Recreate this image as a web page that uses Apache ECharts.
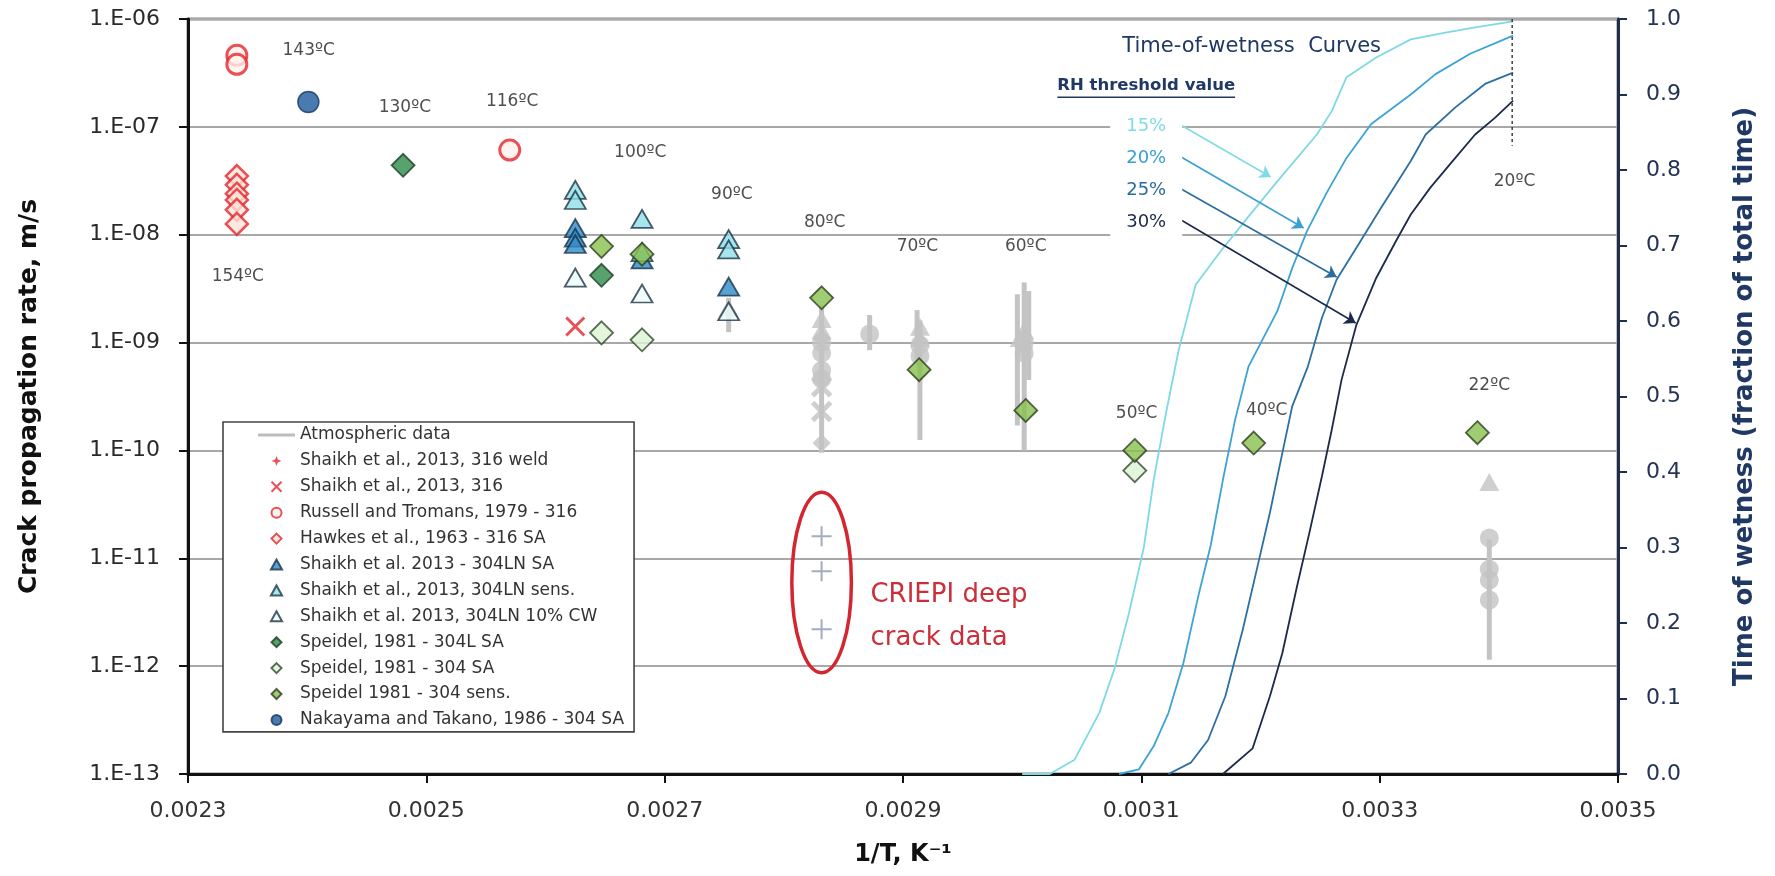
<!DOCTYPE html>
<html><head><meta charset="utf-8">
<script src="https://cdn.jsdelivr.net/npm/echarts@6/dist/echarts.min.js"></script>
<style>html,body{margin:0;padding:0;background:#fff}#c{width:1775px;height:876px}</style>
</head><body><div id="c"></div>
<script>
// ---------- axis ticks ----------
const xTicks = [0.0023, 0.0025, 0.0027, 0.0029, 0.0031, 0.0033, 0.0035];

// ---------- data: [1/T (1/K), crack rate (m/s)] ----------
const russellTromans = [[0.002341, 4.6e-7], [0.002341, 3.8e-7], [0.00257, 6.1e-8]];
const hawkes = [[0.002341, 3.5e-8], [0.002341, 2.9e-8], [0.002341, 2.4e-8], [0.002341, 2.1e-8], [0.002341, 1.7e-8], [0.002341, 1.26e-8]];
const nakayama = [[0.002401, 1.7e-7]];
const speidel304LSA = [[0.0024805, 4.4e-8], [0.002647, 4.2e-9]];
const speidel304Sens = [[0.002647, 7.8e-9], [0.002681, 6.6e-9], [0.0028317, 2.6e-9], [0.0029135, 5.6e-10], [0.003003, 2.35e-10], [0.0030945, 1.0e-10], [0.0031943, 1.17e-10], [0.003382, 1.46e-10]];
const speidel304SA = [[0.002647, 1.23e-9], [0.002681, 1.06e-9], [0.0030945, 6.5e-11]];
const shaikh304LNSA = [[0.002625, 1.15e-8], [0.002625, 9.4e-9], [0.002625, 8.2e-9], [0.002681, 5.9e-9], [0.0027537, 3.3e-9]];
const shaikh304LNSens = [[0.002625, 2.6e-8], [0.002625, 2.1e-8], [0.002681, 1.4e-8], [0.002681, 6.9e-9], [0.0027537, 9.1e-9], [0.0027537, 7.3e-9]];
const shaikh304LNCW = [[0.002625, 4.0e-9], [0.002681, 2.85e-9], [0.0027537, 1.95e-9]];
const shaikh316 = [[0.002625, 1.41e-9]];
const shaikh316Weld = [];

// atmospheric data: ranges [x, low, high] and markers
const atmRanges = [[0.0027537, 1.25e-9, 2.6e-9], [0.0028317, 9.5e-11, 2.2e-9], [0.002872, 8.5e-10, 1.8e-9], [0.0029118, 7e-10, 2.0e-9], [0.0029142, 1.25e-10, 1.6e-9], [0.002996, 1.7e-10, 2.8e-9], [0.0030017, 1.0e-10, 3.6e-9], [0.0030055, 4.5e-10, 3.0e-9], [0.003392, 1.15e-12, 1.5e-11]];
const atmCircles = [[0.0028317, 1.0e-9], [0.0028317, 8e-10], [0.0028317, 5.5e-10], [0.0028317, 4.6e-10], [0.002872, 1.2e-9], [0.0029142, 9.5e-10], [0.0029142, 7.5e-10], [0.0030017, 1.0e-9], [0.0030017, 8e-10], [0.003392, 1.54e-11], [0.003392, 7.9e-12], [0.003392, 6.3e-12], [0.003392, 4.1e-12]];
const atmTriangles = [[0.0027537, 2.1e-9], [0.0028317, 1.65e-9], [0.0028317, 1.3e-9], [0.0029142, 1.4e-9], [0.0029142, 1.1e-9], [0.0030017, 1.3e-9], [0.002998, 1.1e-9], [0.003392, 5.1e-11]];
const atmDiamonds = [[0.0028317, 1.1e-9], [0.0028317, 1.17e-10], [0.0030017, 9e-10]];
const atmCrosses = [[0.0028317, 3.9e-10], [0.0028317, 2.3e-10]];
const criepi = [[0.0028317, 1.6e-11], [0.0028317, 7.6e-12], [0.0028317, 2.2e-12]];

// time-of-wetness curves: [1/T, fraction of total time]
const tow15 = [[0.0030, 0], [0.0030232, 0], [0.003044, 0.019], [0.0030647, 0.081], [0.0030772, 0.138], [0.0030896, 0.213], [0.0031021, 0.30], [0.0031104, 0.39], [0.0031207, 0.478], [0.0031311, 0.56], [0.0031456, 0.648], [0.0031664, 0.692], [0.0031892, 0.737], [0.0032141, 0.785], [0.0032473, 0.847], [0.0032598, 0.878], [0.0032722, 0.923], [0.0032971, 0.949], [0.0033261, 0.973], [0.0033552, 0.982], [0.0033801, 0.989], [0.003412, 0.997]];
const tow20 = [[0.0030813, 0], [0.0030979, 0.006], [0.0031104, 0.037], [0.0031228, 0.081], [0.0031353, 0.147], [0.0031477, 0.235], [0.0031581, 0.302], [0.0031685, 0.39], [0.0031788, 0.47], [0.00319, 0.54], [0.0032141, 0.613], [0.0032266, 0.67], [0.003239, 0.719], [0.0032556, 0.77], [0.0032722, 0.816], [0.0032929, 0.861], [0.0033261, 0.90], [0.0033469, 0.927], [0.0033759, 0.954], [0.003412, 0.978]];
const tow25 = [[0.0031228, 0], [0.0031415, 0.015], [0.003156, 0.045], [0.0031705, 0.103], [0.0031851, 0.191], [0.0031975, 0.275], [0.0032079, 0.346], [0.0032183, 0.425], [0.0032266, 0.487], [0.0032398, 0.54], [0.0032515, 0.604], [0.0032639, 0.655], [0.0032805, 0.697], [0.0033012, 0.75], [0.0033261, 0.812], [0.0033386, 0.847], [0.0033635, 0.883], [0.0033884, 0.914], [0.003412, 0.929]];
const tow30 = [[0.0031685, 0], [0.0031934, 0.034], [0.0032079, 0.103], [0.0032183, 0.16], [0.0032307, 0.249], [0.0032411, 0.32], [0.0032515, 0.394], [0.0032598, 0.456], [0.003268, 0.522], [0.0032805, 0.595], [0.0032971, 0.657], [0.0033137, 0.706], [0.0033261, 0.741], [0.0033427, 0.777], [0.0033635, 0.816], [0.0033801, 0.847], [0.0033967, 0.869], [0.003412, 0.892]];
const line20C = [[0.0034112, 1.0], [0.0034112, 0.832]];

// temperature labels
const tempNames = ['154ºC', '143ºC', '130ºC', '116ºC', '100ºC', '90ºC', '80ºC', '70ºC', '60ºC', '50ºC', '40ºC', '22ºC', '20ºC'];
const tempAnchors = [[0.0023418, 4.1e-9], [0.0024013, 5.1e-7], [0.002482, 1.52e-7], [0.002572, 1.72e-7], [0.0026795, 5.8e-8], [0.0027564, 2.36e-8], [0.0028343, 1.29e-8], [0.0029121, 7.8e-9], [0.003003, 7.8e-9], [0.003096, 2.2e-10], [0.0032052, 2.33e-10], [0.003392, 3.97e-10], [0.0034132, 3.09e-8]];

// annotation anchors (data coordinates)
const rhNames = ['15%', '20%', '25%', '30%'];
const rhArrows = [
  [[0.0031331, 0.8596], [0.0032086, 0.7907]],
  [[0.0031305, 0.8199], [0.0032362, 0.7232]],
  [[0.0031305, 0.7775], [0.0032639, 0.6583]],
  [[0.0031305, 0.7364], [0.0032799, 0.5974]]
];
const ann = {
  criepiEllipse: {x: 0.0028317, halfWidth: 0.000025, top: 4.1e-11, bottom: 8.7e-13},
  criepiText: {x: 0.0028727, y: 2.9e-12, text: 'CRIEPI deep\ncrack data'},
  towTitle: {x: 0.0031926, r: 0.963, text: 'Time-of-wetness  Curves'},
  rhTitle: {x: 0.0031041, r: 0.911, text: 'RH threshold value'},
  rhBlock: {x: 0.0031041, r: 0.794}
};

const FONT = 'DejaVu Sans';
const curveColors = ['#7ED9E4', '#3CA3D6', '#2C6FA3', '#1B2A4A'];
const labelColors = ['#7FDCE6', '#3A9FD2', '#2B6C9E', '#1B2A4A'];

const plusPath = 'path://M5,0V10M0,5H10';
const crossPath = 'path://M0,0L10,10M10,0L0,10';
const starPath = 'path://M5,0L6.4,3.6L10,5L6.4,6.4L5,10L3.6,6.4L0,5L3.6,3.6Z';
const diamondIcon = 'path://M5,0L10,5L5,10L0,5Z';
const triangleIcon = 'path://M5,0L10,9L0,9Z';

function scatter(name, data, symbol, size, style, extra) {
  return Object.assign({
    name, type: 'scatter', data, symbol, symbolSize: size,
    itemStyle: style, xAxisIndex: 0, yAxisIndex: 0, z: 5
  }, extra || {});
}

const towSeries = [tow15, tow20, tow25, tow30].map((d, i) => ({
  name: 'RH ' + rhNames[i], type: 'line', data: d, yAxisIndex: 1, showSymbol: false,
  symbol: 'none', lineStyle: {color: curveColors[i], width: 1.8}, z: 3, silent: true,
  markLine: {
    silent: true, symbol: ['none', 'arrow'], symbolSize: 11,
    label: {show: false},
    lineStyle: {color: labelColors[i], width: 1.6, type: 'solid'},
    data: [[{coord: rhArrows[i][0]}, {coord: rhArrows[i][1]}]]
  }
}));

const series = [
  {
    name: 'Atmospheric data', type: 'custom', data: atmRanges, xAxisIndex: 0, yAxisIndex: 0, z: 2,
    encode: {x: 0, y: [1, 2]},
    itemStyle: {color: '#C3C3C3'},
    renderItem: function (params, api) {
      const x = api.value(0), lo = api.value(1), hi = api.value(2);
      const p1 = api.coord([x, lo]), p2 = api.coord([x, hi]);
      return {type: 'line', shape: {x1: p1[0], y1: p1[1], x2: p2[0], y2: p2[1]},
        style: {stroke: '#C3C3C3', lineWidth: 5}};
    }
  },
  scatter('atm-circles', atmCircles, 'circle', 19, {color: '#C3C3C3'}, {z: 2}),
  scatter('atm-triangles', atmTriangles, 'triangle', [20, 18], {color: '#C3C3C3'}, {z: 2}),
  scatter('atm-diamonds', atmDiamonds, 'diamond', 18, {color: '#C3C3C3'}, {z: 2}),
  scatter('atm-crosses', atmCrosses, crossPath, 18, {color: 'transparent', borderColor: '#C3C3C3', borderWidth: 5}, {z: 2}),
  scatter('CRIEPI', criepi, plusPath, 20, {color: 'transparent', borderColor: '#8C99AD', borderWidth: 2}, {z: 2}),
  ...towSeries,
  {
    name: '20C line', type: 'line', data: line20C, yAxisIndex: 1, showSymbol: false, symbol: 'none',
    lineStyle: {color: '#333', width: 1.4, type: [3, 3]}, z: 3, silent: true
  },
  scatter('Shaikh et al., 2013, 316 weld', shaikh316Weld, starPath, 16, {color: '#E3262E'}),
  scatter('Shaikh et al., 2013, 316', shaikh316, crossPath, 18, {color: 'transparent', borderColor: '#E3262E', borderWidth: 3}),
  scatter('Russell and Tromans, 1979 - 316', russellTromans, 'circle', 20, {color: '#FFF1EC', borderColor: '#E3262E', borderWidth: 3}),
  scatter('Hawkes et al., 1963 - 316 SA', hawkes, 'diamond', 22, {color: '#FDE3D8', borderColor: '#E3262E', borderWidth: 2.5}),
  scatter('Shaikh et al. 2013, 304LN 10% CW', shaikh304LNCW, 'triangle', [21, 18], {color: '#EEFBFC', borderColor: '#1D3545', borderWidth: 1.8}),
  scatter('Shaikh et al. 2013 - 304LN SA', shaikh304LNSA, 'triangle', [21, 18], {color: '#2E8BC8', borderColor: '#17334A', borderWidth: 1.8}),
  scatter('Shaikh et al., 2013, 304LN sens.', shaikh304LNSens, 'triangle', [21, 18], {color: '#8FE0EA', borderColor: '#1D3545', borderWidth: 1.8}),
  scatter('Speidel, 1981 - 304 SA', speidel304SA, 'diamond', 23, {color: '#DDF2D5', borderColor: '#2F4A2A', borderWidth: 1.8}),
  scatter('Speidel 1981 - 304 sens.', speidel304Sens, 'diamond', 23, {color: '#88C04E', borderColor: '#2D3F1E', borderWidth: 1.8}),
  scatter('Speidel, 1981 - 304L SA', speidel304LSA, 'diamond', 23, {color: '#2E8B4A', borderColor: '#1C3D25', borderWidth: 1.8}),
  scatter('Nakayama and Takano, 1986 - 304 SA', nakayama, 'circle', 21, {color: '#1C5A9E', borderColor: '#15365F', borderWidth: 1.5}),
  {
    name: 'temps', type: 'scatter', symbolSize: 0, z: 6, silent: true,
    data: tempAnchors.map((p, i) => ({value: p, name: tempNames[i]})),
    label: {show: true, position: 'inside', formatter: '{b}', color: '#222', fontSize: 17, fontFamily: FONT}
  }
];

const legendNames = ['Atmospheric data', 'Shaikh et al., 2013, 316 weld', 'Shaikh et al., 2013, 316',
  'Russell and Tromans, 1979 - 316', 'Hawkes et al., 1963 - 316 SA', 'Shaikh et al. 2013 - 304LN SA',
  'Shaikh et al., 2013, 304LN sens.', 'Shaikh et al. 2013, 304LN 10% CW', 'Speidel, 1981 - 304L SA',
  'Speidel, 1981 - 304 SA', 'Speidel 1981 - 304 sens.', 'Nakayama and Takano, 1986 - 304 SA'];
const legendIcons = ['path://M0,0H37V3H0Z', null, null, null, diamondIcon, triangleIcon, triangleIcon, triangleIcon,
  diamondIcon, diamondIcon, diamondIcon, null];

const option = {
  animation: false,
  backgroundColor: '#fff',
  textStyle: {fontFamily: FONT},
  grid: {left: 188, right: 157, top: 19, bottom: 102, show: true, borderColor: '#111', borderWidth: 2.5},
  legend: {
    orient: 'vertical', left: 223, top: 422,
    padding: [3, 10, 2, 35], itemWidth: 37, itemHeight: 10, itemGap: 5.9,
    backgroundColor: '#fff', borderColor: '#444', borderWidth: 1.6, selectedMode: false,
    textStyle: {fontSize: 17, color: '#333', lineHeight: 20, fontFamily: FONT},
    data: legendNames.map((n, i) => {
      const item = {name: n};
      if (legendIcons[i]) item.icon = legendIcons[i];
      if (i === 0) item.itemStyle = {color: '#BDBDBD'};
      return item;
    })
  },
  xAxis: {
    type: 'value', min: 0.0023, max: 0.0035,
    name: '1/T, K⁻¹', nameLocation: 'middle', nameGap: 69,
    nameTextStyle: {fontSize: 24, fontWeight: 'bold', color: '#111', fontFamily: FONT},
    axisLine: {show: true, onZero: false, lineStyle: {color: '#111', width: 3}},
    axisTick: {show: true, customValues: xTicks, length: 9, lineStyle: {color: '#111', width: 2}},
    axisLabel: {customValues: xTicks, formatter: v => v.toFixed(4), fontSize: 22, color: '#333', margin: 26},
    splitLine: {show: false}
  },
  yAxis: [
    {
      type: 'log', logBase: 10, min: 1e-13, max: 1e-6, splitNumber: 7, position: 'left',
      name: 'Crack propagation rate, m/s', nameLocation: 'middle', nameGap: 146, nameRotate: 90,
      nameTextStyle: {fontSize: 25, fontWeight: 'bold', color: '#111', fontFamily: FONT},
      axisLine: {show: true, lineStyle: {color: '#111', width: 3}},
      axisTick: {show: true, length: 9, lineStyle: {color: '#111', width: 2}},
      axisLabel: {
        fontSize: 22, color: '#2A2A2A', margin: 28,
        formatter: v => '1.E-' + String(Math.round(-Math.log10(v))).padStart(2, '0')
      },
      splitLine: {show: true, lineStyle: {color: '#A8A8A8', width: 2.2}}
    },
    {
      type: 'value', min: 0, max: 1, interval: 0.1, position: 'right',
      name: 'Time of wetness (fraction of total time)', nameLocation: 'middle', nameGap: 114, nameRotate: 90,
      nameTextStyle: {fontSize: 26, fontWeight: 'bold', color: '#1F3864', fontFamily: FONT},
      axisLine: {show: true, lineStyle: {color: '#1F2D4F', width: 3}},
      axisTick: {show: true, length: 9, lineStyle: {color: '#1F2D4F', width: 2}},
      axisLabel: {fontSize: 22, color: '#253355', margin: 28, formatter: v => v.toFixed(1)},
      splitLine: {show: false}
    }
  ],
  series: series
};

const chart = echarts.init(document.getElementById('c'));
chart.setOption(option);

// ---------- annotations positioned from data coordinates ----------
const L = p => chart.convertToPixel({xAxisIndex: 0, yAxisIndex: 0}, p);
const R = p => chart.convertToPixel({xAxisIndex: 0, yAxisIndex: 1}, p);
const e = ann.criepiEllipse;
const eTop = L([e.x, e.top]), eBot = L([e.x, e.bottom]), eLeft = L([e.x - e.halfWidth, e.top]);
const ecx = eTop[0], ecy = (eTop[1] + eBot[1]) / 2;
const rhFont = 'bold 16.5px "DejaVu Sans"';
const ctx = document.createElement('canvas').getContext('2d');
ctx.font = rhFont;
const rhW = ctx.measureText(ann.rhTitle.text).width;
const rhP = R([ann.rhTitle.x, ann.rhTitle.r]);
const ctP = L([ann.criepiText.x, ann.criepiText.y]);
const towP = R([ann.towTitle.x, ann.towTitle.r]);
const blkP = R([ann.rhBlock.x, ann.rhBlock.r]);

const rich = {};
rhNames.forEach((n, i) => { rich['r' + i] = {fill: labelColors[i], fontSize: 18, fontFamily: FONT, lineHeight: 32}; });

chart.setOption({
  graphic: [
    {type: 'ellipse', z: 20, silent: true,
      shape: {cx: ecx, cy: ecy, rx: ecx - eLeft[0], ry: (eBot[1] - eTop[1]) / 2},
      style: {fill: 'none', stroke: '#D3262F', lineWidth: 3.5}},
    {type: 'text', z: 20, silent: true, x: ctP[0], y: ctP[1],
      style: {text: ann.criepiText.text, fill: '#C9303A', font: '26px "DejaVu Sans"', lineHeight: 43,
        align: 'left', verticalAlign: 'middle'}},
    {type: 'text', z: 20, silent: true, x: towP[0], y: towP[1],
      style: {text: ann.towTitle.text, fill: '#1F3864', font: '21px "DejaVu Sans"', align: 'center', verticalAlign: 'middle'}},
    {type: 'text', z: 20, silent: true, x: rhP[0], y: rhP[1],
      style: {text: ann.rhTitle.text, fill: '#1F3864', font: rhFont, align: 'center', verticalAlign: 'middle'}},
    {type: 'line', z: 20, silent: true,
      shape: {x1: rhP[0] - rhW / 2, y1: rhP[1] + 11, x2: rhP[0] + rhW / 2, y2: rhP[1] + 11},
      style: {stroke: '#1F3864', lineWidth: 1.5}},
    {type: 'text', z: 20, silent: true, x: blkP[0], y: blkP[1],
      style: {text: rhNames.map((n, i) => '{r' + i + '|' + n + '}').join('\n'), rich: rich,
        backgroundColor: '#fff', padding: [4, 16, 4, 16], align: 'center', verticalAlign: 'middle'}}
  ]
});
</script>
</body></html>
